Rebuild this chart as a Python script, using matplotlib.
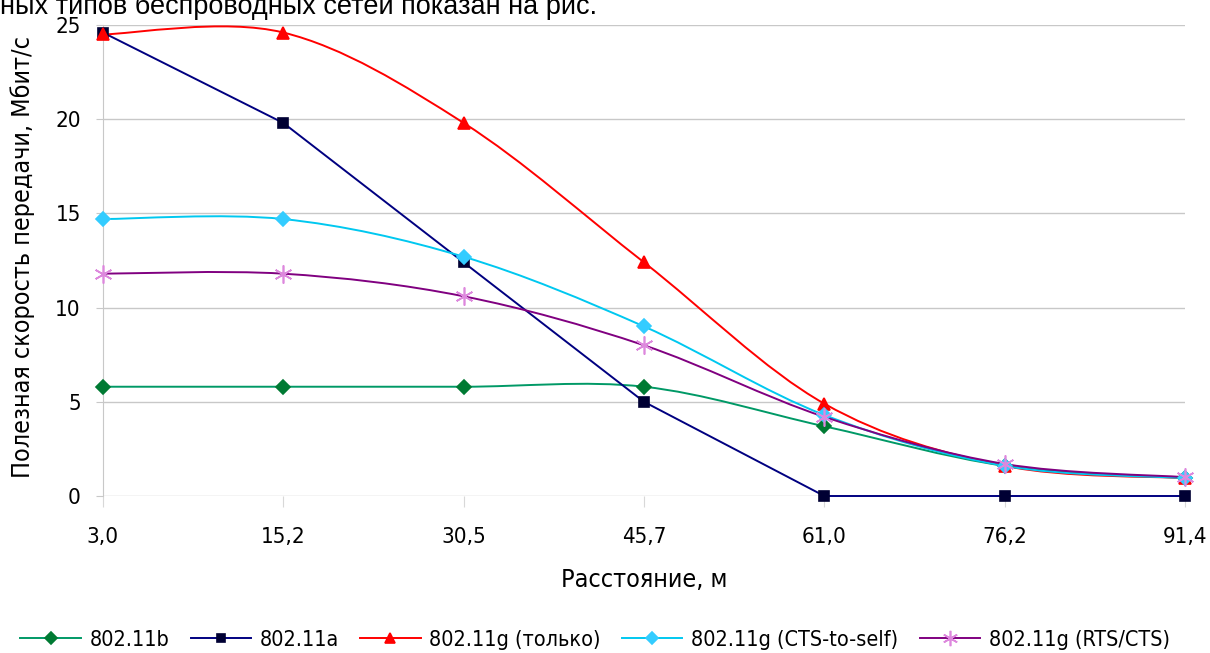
import matplotlib
matplotlib.use("Agg")
import matplotlib.pyplot as plt
import numpy as np
from matplotlib.path import Path
from matplotlib.patches import PathPatch

# Data
distances = ['3,0', '15,2', '30,5', '45,7', '61,0', '76,2', '91,4']
speed_b = [5.8, 5.8, 5.8, 5.8, 3.7, 1.6, 0.95]
speed_a = [24.6, 19.8, 12.4, 5.0, 0.0, 0.0, 0.0]
speed_g_only = [24.5, 24.6, 19.8, 12.4, 4.9, 1.6, 0.95]
speed_g_cts = [14.7, 14.7, 12.7, 9.0, 4.3, 1.6, 0.95]
speed_g_rts = [11.8, 11.8, 10.6, 8.0, 4.2, 1.7, 1.0]

labels = ['802.11b', '802.11a', '802.11g (только)', '802.11g (CTS-to-self)', '802.11g (RTS/CTS)']

plt.rcParams['font.family'] = ['DejaVu Sans']
plt.rcParams['font.stretch'] = 'condensed'


def smooth_path(x, y):
    # Excel-like smoothed line: cubic bezier through every point
    x = np.asarray(x, float)
    y = np.asarray(y, float)
    pts = np.column_stack([x, y])
    verts = [pts[0]]
    codes = [Path.MOVETO]
    n = len(pts)
    for i in range(n - 1):
        p0 = pts[i - 1] if i > 0 else pts[i]
        p1 = pts[i]
        p2 = pts[i + 1]
        p3 = pts[i + 2] if i + 2 < n else pts[i + 1]
        c1 = p1 + (p2 - p0) / 6.0
        c2 = p2 - (p3 - p1) / 6.0
        verts += [c1, c2, p2]
        codes += [Path.CURVE4] * 3
    return Path(verts, codes)


fig = plt.figure(figsize=(12.1, 6.53), dpi=100)
ax = fig.add_axes([103 / 1210, 1 - 496 / 653, 1082 / 1210, 471 / 653])

xs = np.arange(len(distances))
star = (6, 2, 0)

series = [
    (speed_b, '#009966', 'D', '#007a33', '#007a33', 7, True),
    (speed_a, '#000080', 's', '#000033', '#000033', 7, False),
    (speed_g_only, '#ff0000', '^', '#ff0000', '#ff0000', 9, True),
    (speed_g_cts, '#00c8f0', 'D', '#33ccff', '#33ccff', 7, True),
    (speed_g_rts, '#800080', star, '#dd88dd', '#dd88dd', 13, True),
]

handles = []
for (vals, lc, mk, mfc, mec, ms, smooth), lab in zip(series, labels):
    if smooth:
        patch = PathPatch(smooth_path(xs, vals), facecolor='none', edgecolor=lc,
                          lw=1.4, zorder=3, transform=ax.transData)
        ax.add_patch(patch)
    else:
        ax.plot(xs, vals, color=lc, lw=1.4, zorder=3, clip_on=False)
    ax.plot(xs, vals, ls='none', marker=mk, ms=ms, mfc=mfc, mec=mec,
            mew=1.2, zorder=4, clip_on=False)
    h, = ax.plot([], [], color=lc, lw=1.4, marker=mk, ms=ms * 0.85, mfc=mfc, mec=mec,
                 mew=1.2)
    handles.append(h)

ax.set_xlim(0, 6)
ax.set_ylim(0, 25)
ax.set_yticks(range(0, 26, 5))
ax.set_xticks(xs)
ax.set_xticklabels(distances)
ax.grid(axis='y', color='#c8c8c8', lw=1)
ax.set_axisbelow(True)
for s in ['top', 'right', 'bottom']:
    ax.spines[s].set_visible(False)
ax.spines['left'].set_color('#c8c8c8')
ax.tick_params(axis='x', length=8, color='#d8d8d8', labelsize=16, pad=14)
ax.tick_params(axis='y', length=5, color='#c8c8c8', labelsize=16, pad=11)

fig.text(23 / 1210, 1 - 257 / 653, 'Полезная скорость передачи, Мбит/с', fontsize=18,
         rotation=90, ha='center', va='center')
fig.text(644 / 1210, 1 - 580 / 653, 'Расстояние, м', fontsize=18,
         ha='center', va='center')

fig.text(0, 1 - 14 / 653, 'ных типов беспроводных сетей показан на рис.',
         fontsize=19.5, family=['Liberation Sans', 'DejaVu Sans'], stretch='normal',
         ha='left', va='baseline')

fig.legend(handles, labels, loc='center', bbox_to_anchor=(595 / 1210, 1 - 640 / 653),
           ncol=5, frameon=False, fontsize=15.5, handlelength=2.8,
           columnspacing=1.0, handletextpad=0.4, borderpad=0, borderaxespad=0)

fig.savefig('out.png', dpi=100)
